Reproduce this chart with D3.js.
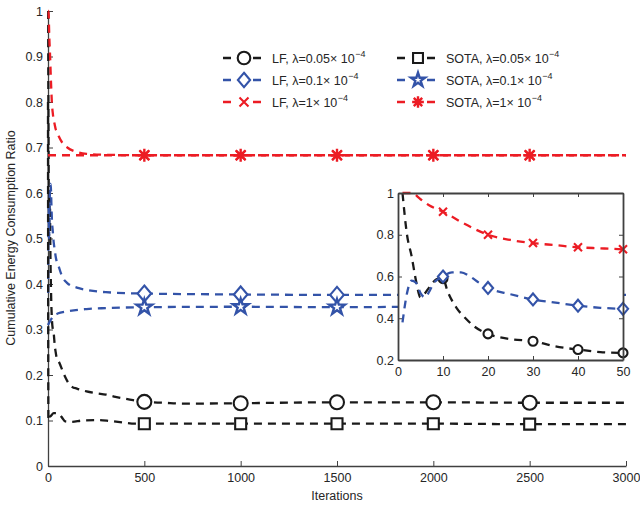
<!DOCTYPE html>
<html>
<head>
<meta charset="utf-8">
<script src="https://cdn.jsdelivr.net/npm/d3@7"></script>
<style>
  body { margin: 0; background: #fff; }
  svg { display: block; font-family: "Liberation Sans", Arial, sans-serif; }
  .tick text { font-size: 12.5px; fill: #262626; }
  .axis path, .axis line { stroke: #404040; }
</style>
</head>
<body>
<svg id="chart" width="640" height="505"></svg>
<script>

// ticks
const xTicks = [0, 500, 1000, 1500, 2000, 2500, 3000];
const yTicks = [0, 0.1, 0.2, 0.3, 0.4, 0.5, 0.6, 0.7, 0.8, 0.9, 1];
const yTickLabels = ['0', '0.1', '0.2', '0.3', '0.4', '0.5', '0.6', '0.7', '0.8', '0.9', '1'];
const insetXTicks = [0, 10, 20, 30, 40, 50];
const insetYTicks = [0.2, 0.4, 0.6, 0.8, 1];
const insetYTickLabels = ['0.2', '0.4', '0.6', '0.8', '1'];

const mainMarkerIters = [500, 1000, 1500, 2000, 2500];
const insetMarkerIters = [10, 20, 30, 40, 50];

// series: [iteration, ratio]
const lfLam005 = [[1,1.0],[2,0.8],[3,0.7],[4,0.58],[5,0.5],[6,0.52],[7,0.55],[9,0.59],[10,0.59],[11,0.53],[13,0.45],[15,0.4],[17,0.36],[20,0.325],[25,0.3],[30,0.29],[35,0.265],[40,0.25],[45,0.238],[50,0.234],[60,0.226],[75,0.21],[90,0.195],[110,0.18],[125,0.174],[150,0.17],[200,0.164],[250,0.16],[300,0.157],[350,0.152],[425,0.146],[500,0.141],[600,0.139],[700,0.137],[1000,0.138],[1500,0.14],[2000,0.14],[2500,0.139],[3000,0.139]];
const lfLam01 = [[1,0.38],[2,0.52],[3,0.58],[4,0.57],[5,0.52],[6,0.5],[7,0.53],[8,0.57],[10,0.6],[12,0.62],[14,0.62],[16,0.6],[18,0.57],[20,0.545],[25,0.515],[30,0.49],[35,0.475],[40,0.46],[45,0.45],[50,0.445],[75,0.415],[100,0.402],[150,0.392],[200,0.387],[300,0.382],[500,0.379],[1000,0.377],[1500,0.376],[2000,0.376],[2500,0.376],[3000,0.376]];
const lfLam1 = [[1,1.0],[3,1.0],[5,0.97],[7,0.94],[10,0.91],[15,0.85],[20,0.8],[25,0.775],[30,0.76],[35,0.75],[40,0.74],[45,0.735],[50,0.73],[75,0.71],[100,0.7],[150,0.69],[200,0.686],[300,0.684],[500,0.683],[1000,0.683],[1500,0.683],[2000,0.683],[2500,0.683],[3000,0.683]];
const sotaLam005 = [[0,0.8],[2,0.1],[5,0.105],[15,0.11],[30,0.116],[50,0.116],[70,0.108],[90,0.098],[120,0.097],[180,0.1],[260,0.101],[320,0.099],[400,0.095],[450,0.093],[500,0.093],[1000,0.093],[1500,0.093],[2000,0.093],[2500,0.092],[3000,0.092]];
const sotaLam01 = [[0,0.31],[10,0.318],[25,0.328],[50,0.335],[100,0.34],[200,0.345],[300,0.347],[500,0.349],[1000,0.35],[1500,0.349],[2000,0.35],[2500,0.35],[3000,0.35]];
const sotaLam1 = [[0,0.683],[500,0.683],[1000,0.683],[1500,0.683],[2000,0.683],[2500,0.683],[3000,0.683]];

const legendLabels = ['LF, λ=0.05× 10', 'LF, λ=0.1× 10', 'LF, λ=1× 10', 'SOTA, λ=0.05× 10', 'SOTA, λ=0.1× 10', 'SOTA, λ=1× 10'];
const legendExponent = '−4';

const black = '#1a1a1a', blue = '#3353a8', red = '#ec1c24';

const series = [
  { name: legendLabels[0], data: lfLam005, color: black, marker: 'circle', inset: true },
  { name: legendLabels[1], data: lfLam01, color: blue, marker: 'diamond', inset: true },
  { name: legendLabels[2], data: lfLam1, color: red, marker: 'times', inset: true },
  { name: legendLabels[3], data: sotaLam005, color: black, marker: 'square' },
  { name: legendLabels[4], data: sotaLam01, color: blue, marker: 'star' },
  { name: legendLabels[5], data: sotaLam1, color: red, marker: 'asterisk' }
];

const svg = d3.select('#chart');

const xScale = d3.scaleLinear().domain([0, 3000]).range([48, 626]);
const yScale = d3.scaleLinear().domain([0, 1]).range([466, 11]);

const insetX = d3.scaleLinear().domain([0, 50]).range([398, 623]);
const insetY = d3.scaleLinear().domain([0.2, 1]).range([360, 193]);

const markerPath = (type, r) => {
  if (type == 'square') return `M${-r},${-r}H${r}V${r}H${-r}Z`;
  if (type == 'diamond') return `M0,${-r}L${r * 0.85},0L0,${r}L${-r * 0.85},0Z`;
  if (type == 'times') return `M${-r},${-r}L${r},${r}M${-r},${r}L${r},${-r}`;
  if (type == 'asterisk') {
    const d = r * 0.72;
    return `M0,${-r}V${r}M${-r},0H${r}M${-d},${-d}L${d},${d}M${-d},${d}L${d},${-d}`;
  }
  if (type == 'star') return d3.symbol(d3.symbolStar, r * r / 0.8908)();
  return d3.symbol(d3.symbolCircle, Math.PI * r * r)();
};

const drawMarker = (g, type, cx, cy, r, color) => {
  g.append('path')
    .attr('d', markerPath(type, r))
    .attr('transform', 'translate(' + cx + ',' + cy + ')')
    .attr('fill', (type == 'times' || type == 'asterisk') ? 'none' : '#fff')
    .attr('stroke', color)
    .attr('stroke-width', (type == 'asterisk' || type == 'star') ? 2.4 : 2.1)
    .attr('stroke-linejoin', 'miter');
};

const mainSize = { circle: 7, square: 5.5, diamond: 8, star: 8.2, times: 5, asterisk: 6.5 };
const insetSize = { circle: 4.5, diamond: 6, times: 4 };

// main axes (box off, ticks inward)
const xAxis = svg.append('g')
  .attr('class', 'axis')
  .attr('transform', 'translate(0,466)')
  .call(d3.axisBottom(xScale).tickValues(xTicks).tickSizeInner(-5).tickSizeOuter(0).tickPadding(7).tickFormat(d3.format('d')));

const yAxis = svg.append('g')
  .attr('class', 'axis')
  .attr('transform', 'translate(48,0)')
  .call(d3.axisLeft(yScale).tickValues(yTicks).tickSizeInner(-5).tickSizeOuter(0).tickPadding(5).tickFormat((d, i) => yTickLabels[i]));

svg.selectAll('.axis path').attr('stroke-width', 1.3);

svg.append('text')
  .attr('x', 337).attr('y', 500)
  .attr('text-anchor', 'middle')
  .attr('font-size', 12.5).attr('fill', '#262626')
  .text('Iterations');

svg.append('text')
  .attr('transform', 'translate(15,238) rotate(-90)')
  .attr('text-anchor', 'middle')
  .attr('font-size', 12.5).attr('fill', '#262626')
  .text('Cumulative Energy Consumption Ratio');

const mainLine = d3.line()
  .x(d => xScale(d[0]))
  .y(d => yScale(d[1]))
  .curve(d3.curveMonotoneX);

const mainG = svg.append('g');

series.forEach(s => {
  mainG.append('path')
    .datum(s.data)
    .attr('d', mainLine)
    .attr('fill', 'none')
    .attr('stroke', s.color)
    .attr('stroke-width', 2.3)
    .attr('stroke-dasharray', '8,6');
});

series.forEach(s => {
  s.data.filter(d => mainMarkerIters.includes(d[0])).forEach(d => {
    drawMarker(mainG, s.marker, xScale(d[0]), yScale(d[1]), mainSize[s.marker], s.color);
  });
});

// legend
const legend = svg.append('g');
series.forEach((s, i) => {
  const col = i < 3 ? 0 : 1;
  const row = i % 3;
  const lx = col == 0 ? 223 : 397;
  const ly = 58 + row * 22;
  const g = legend.append('g');
  g.append('line')
    .attr('x1', lx).attr('x2', lx + 40).attr('y1', ly).attr('y2', ly)
    .attr('stroke', s.color).attr('stroke-width', 2.3)
    .attr('stroke-dasharray', '8,22');
  drawMarker(g, s.marker, lx + 21, ly, mainSize[s.marker] * 0.9, s.color);
  const t = g.append('text')
    .attr('x', lx + 49).attr('y', ly + 4.5)
    .attr('font-size', 12.5).attr('fill', '#262626');
  t.append('tspan').text(s.name);
  t.append('tspan').attr('dy', -6).attr('dx', 0.5).attr('font-size', 9).text(legendExponent);
});

// inset
const inset = svg.append('g');

inset.append('rect')
  .attr('x', 398).attr('y', 193)
  .attr('width', 225).attr('height', 167)
  .attr('fill', '#fff');

const insetLine = d3.line()
  .x(d => insetX(d[0]))
  .y(d => insetY(d[1]))
  .curve(d3.curveMonotoneX);

series.filter(s => s.inset).forEach(s => {
  const part = s.data.filter(d => d[0] >= 1 && d[0] <= 50);
  inset.append('path')
    .datum(part)
    .attr('d', insetLine)
    .attr('fill', 'none')
    .attr('stroke', s.color)
    .attr('stroke-width', 2.3)
    .attr('stroke-dasharray', '8,6');
  part.filter(d => insetMarkerIters.includes(d[0])).forEach(d => {
    drawMarker(inset, s.marker, insetX(d[0]), insetY(d[1]), insetSize[s.marker], s.color);
  });
});

const iax = inset.append('g').attr('class', 'axis');

iax.append('g')
  .attr('transform', 'translate(0,360)')
  .call(d3.axisBottom(insetX).tickValues(insetXTicks).tickSizeInner(-4).tickSizeOuter(0).tickPadding(7));
iax.append('g')
  .attr('transform', 'translate(0,193)')
  .call(d3.axisTop(insetX).tickValues(insetXTicks).tickSizeInner(-4).tickSizeOuter(0).tickFormat(''));
iax.append('g')
  .attr('transform', 'translate(398,0)')
  .call(d3.axisLeft(insetY).tickValues(insetYTicks).tickSizeInner(-4).tickSizeOuter(0).tickPadding(4).tickFormat((d, i) => insetYTickLabels[i]));
iax.append('g')
  .attr('transform', 'translate(623,0)')
  .call(d3.axisRight(insetY).tickValues(insetYTicks).tickSizeInner(-4).tickSizeOuter(0).tickFormat(''));

iax.selectAll('path').attr('stroke', '#262626').attr('stroke-width', 1.8);
iax.selectAll('line').attr('stroke', '#262626');

</script>
</body>
</html>
